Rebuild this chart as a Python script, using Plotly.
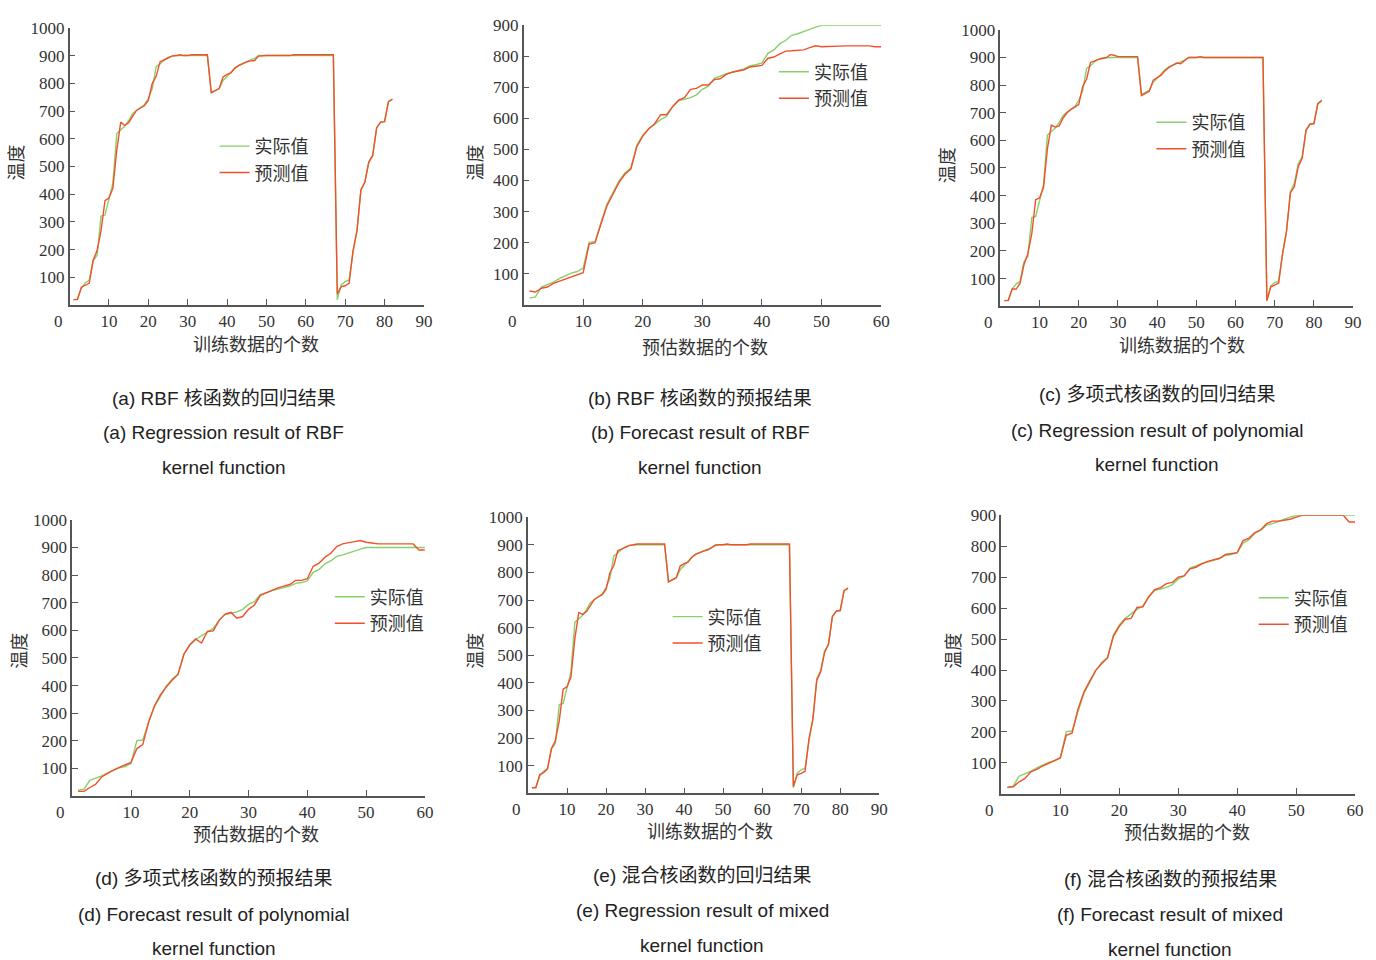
import plotly.graph_objects as go

W, H = 1376, 960

# ---------------- data ----------------
train_x = list(range(1, 83))
actual_train = [20, 22, 62, 80, 90, 160, 180, 321, 325, 380, 440, 619, 632, 645, 665, 690, 702, 711, 722, 745,
                780, 860, 870, 884, 893, 898, 900, 900, 900, 900, 900, 900, 900, 900, 900, 766, 773, 781, 810, 825,
                840, 855, 866, 873, 878, 884, 890, 900, 900, 900, 900, 900, 900, 900, 900, 900, 900, 900, 900, 900,
                900, 900, 900, 900, 900, 900, 900, 20, 73, 85, 91, 190, 270, 415, 445, 515, 540, 640, 660, 662,
                734, 743]
pred_rbf_train = [20, 20, 65, 73, 79, 162, 197, 268, 377, 386, 421, 560, 660, 648, 658, 681, 702, 711, 719, 738,
                  799, 825, 878, 884, 891, 898, 900, 903, 900, 900, 903, 903, 903, 903, 903, 766, 773, 781, 823, 832,
                  837, 855, 864, 872, 877, 881, 882, 898, 900, 900, 900, 900, 900, 900, 900, 900, 903, 903, 903, 903,
                  903, 903, 903, 903, 903, 903, 903, 41, 67, 70, 79, 197, 268, 416, 443, 516, 540, 640, 660, 662,
                  734, 743]
pred_poly_train = [20, 20, 62, 62, 82, 150, 190, 262, 385, 392, 430, 570, 655, 648, 652, 681, 700, 712, 720, 730,
                   795, 822, 882, 888, 893, 896, 899, 910, 908, 903, 903, 903, 903, 903, 903, 762, 769, 778, 818, 828,
                   836, 852, 864, 872, 880, 877, 888, 900, 900, 900, 903, 900, 900, 900, 900, 900, 900, 900, 900, 900,
                   900, 900, 900, 900, 900, 900, 900, 20, 70, 76, 84, 190, 270, 410, 432, 505, 535, 636, 658, 660,
                   732, 745]
pred_mix_train = [20, 20, 68, 75, 88, 162, 190, 262, 377, 386, 421, 560, 655, 648, 658, 681, 702, 711, 719, 738,
                  799, 825, 878, 884, 891, 898, 900, 903, 903, 903, 903, 903, 903, 903, 903, 766, 773, 781, 823, 832,
                  837, 855, 866, 872, 877, 881, 888, 898, 900, 900, 903, 900, 900, 900, 900, 900, 903, 903, 903, 903,
                  903, 903, 903, 903, 903, 903, 903, 25, 67, 72, 80, 197, 268, 410, 440, 510, 540, 640, 660, 662,
                  734, 743]

fc_x = list(range(1, 61))
actual_fc = [21, 25, 57, 65, 73, 84, 94, 102, 107, 118, 201, 203, 266, 324, 361, 398, 424, 440, 514, 546,
             567, 581, 596, 607, 638, 657, 662, 667, 676, 694, 704, 729, 736, 744, 749, 755, 760, 770, 773, 779,
             810, 821, 841, 852, 868, 873, 879, 887, 894, 900, 900, 900, 900, 900, 900, 900, 900, 900, 900, 900]
pred_rbf_fc = [44, 41, 53, 57, 69, 76, 83, 91, 97, 103, 195, 200, 261, 319, 356, 393, 420, 437, 509, 543,
               567, 583, 612, 612, 638, 659, 667, 694, 697, 708, 708, 725, 728, 742, 749, 754, 757, 766, 768, 771,
               794, 798, 808, 817, 818, 819, 821, 828, 834, 831, 832, 834, 834, 834, 834, 834, 834, 834, 831, 831]
pred_poly_fc = [17, 17, 31, 43, 69, 82, 94, 104, 112, 122, 172, 186, 268, 327, 366, 395, 419, 441, 513, 548,
                569, 554, 596, 598, 636, 659, 665, 644, 650, 676, 692, 727, 736, 746, 754, 760, 766, 781, 781, 787,
                832, 843, 865, 879, 903, 913, 916, 921, 925, 919, 916, 913, 913, 913, 913, 913, 913, 913, 891, 891]
pred_mix_fc = [21, 23, 39, 50, 71, 79, 90, 98, 106, 116, 189, 197, 274, 329, 365, 399, 420, 439, 509, 541,
               564, 567, 602, 604, 636, 660, 666, 679, 683, 700, 704, 727, 732, 743, 751, 756, 761, 773, 775, 779,
               818, 826, 844, 853, 873, 881, 881, 884, 887, 894, 900, 900, 900, 900, 900, 900, 900, 900, 878, 878]

series_names = ["实际值", "预测值"]
xtitle_train = "训练数据的个数"
xtitle_fc = "预估数据的个数"
ytitle = "温度"

captions = [
    ["(a) RBF 核函数的回归结果", "(a) Regression result of RBF", "kernel function"],
    ["(b) RBF 核函数的预报结果", "(b) Forecast result of RBF", "kernel function"],
    ["(c) 多项式核函数的回归结果", "(c) Regression result of polynomial", "kernel function"],
    ["(d) 多项式核函数的预报结果", "(d) Forecast result of polynomial", "kernel function"],
    ["(e) 混合核函数的回归结果", "(e) Regression result of mixed", "kernel function"],
    ["(f) 混合核函数的预报结果", "(f) Forecast result of mixed", "kernel function"],
]

# ---------------- layout geometry (pixels) ----------------
panels = [
    dict(box=(70, 426.7, 19, 299), xmax=90, ymax=1000, x=train_x, act=actual_train, pred=pred_rbf_train,
         xt=xtitle_train, xtpos=(258, 337), ytpos=(15, 155), leg=(216, 120), cap=(225, [393, 428, 463])),
    dict(box=(527, 887, 16.5, 298.5), xmax=60, ymax=900, x=fc_x, act=actual_fc, pred=pred_rbf_fc,
         xt=xtitle_fc, xtpos=(710, 340), ytpos=(477, 155), leg=(779, 45), cap=(705, [393, 428, 463])),
    dict(box=(1007, 1362, 21, 300), xmax=90, ymax=1000, x=train_x, act=actual_train, pred=pred_poly_train,
         xt=xtitle_train, xtpos=(1190, 338), ytpos=(952, 158), leg=(1159, 96), cap=(1165, [389, 425, 460])),
    dict(box=(72.7, 427.7, 515.7, 794.5), xmax=60, ymax=1000, x=fc_x, act=actual_fc, pred=pred_poly_fc,
         xt=xtitle_fc, xtpos=(258, 832), ytpos=(18, 648), leg=(332, 575), cap=(215, [878, 914, 948])),
    dict(box=(531.5, 885, 513, 791.7), xmax=90, ymax=1000, x=train_x, act=actual_train, pred=pred_mix_train,
         xt=xtitle_train, xtpos=(715, 829), ytpos=(477, 648), leg=(672, 595), cap=(707, [875, 910, 945])),
    dict(box=(1008, 1364, 511, 792.3), xmax=60, ymax=900, x=fc_x, act=actual_fc, pred=pred_mix_fc,
         xt=xtitle_fc, xtpos=(1195, 830), ytpos=(958, 648), leg=(1262, 576), cap=(1178, [879, 914, 949])),
]

GREEN = "#86d16a"
RED = "#f2502c"
AXIS = "#555555"
TXT = "#333333"
SERIF = "Liberation Serif, Times New Roman, serif"
CJK = "Noto Sans CJK SC"
SANS = "Liberation Sans, Noto Sans CJK SC, sans-serif"

def px(x):
    return x / W

def py(y):
    return 1 - y / H

fig = go.Figure()
annotations = []
layout = dict(width=W, height=H, margin=dict(l=0, r=0, t=0, b=0),
              paper_bgcolor="white", plot_bgcolor="white", showlegend=True)

for i, p in enumerate(panels):
    n = i + 1
    sfx = "" if n == 1 else str(n)
    xa, ya = "x" + sfx, "y" + sfx
    leg = "legend" + sfx
    x0, x1, yt, yb = p["box"]
    fig.add_trace(go.Scatter(x=p["x"], y=p["act"], mode="lines", name=series_names[0],
                             line=dict(color=GREEN, width=1.4), xaxis=xa, yaxis=ya, legend=leg))
    fig.add_trace(go.Scatter(x=p["x"], y=p["pred"], mode="lines", name=series_names[1],
                             line=dict(color=RED, width=1.4), xaxis=xa, yaxis=ya, legend=leg))
    common = dict(showline=True, linecolor=AXIS, linewidth=1.5, ticks="inside", ticklen=6,
                  tickcolor=AXIS, tickwidth=1.3, showgrid=False, zeroline=False,
                  tickfont=dict(family=SERIF, size=17, color=TXT))
    layout["xaxis" + sfx] = dict(domain=[px(x0), px(x1)], range=[0, p["xmax"]],
                                 tickvals=list(range(10, p["xmax"] + 1, 10)), anchor=ya, **common)
    layout["yaxis" + sfx] = dict(domain=[py(yb), py(yt)], range=[0, p["ymax"]],
                                 tickvals=list(range(100, p["ymax"] + 1, 100)), anchor=xa, **common)
    layout[leg] = dict(x=px(p["leg"][0]), y=py(p["leg"][1]), xanchor="left", yanchor="top",
                       bgcolor="rgba(0,0,0,0)", borderwidth=0, tracegroupgap=0,
                       font=dict(family=CJK, size=18, color=TXT))
    annotations.append(dict(text="0", xref=xa + " domain", yref=ya + " domain", x=0, y=0,
                            xanchor="right", yanchor="top", xshift=-5, yshift=-5, showarrow=False,
                            font=dict(family=SERIF, size=17, color=TXT)))
    annotations.append(dict(text=p["xt"], xref="paper", yref="paper", x=px(p["xtpos"][0]),
                            y=py(p["xtpos"][1]), xanchor="center", yanchor="middle", showarrow=False,
                            font=dict(family=CJK, size=18, color=TXT)))
    annotations.append(dict(text=ytitle, xref="paper", yref="paper", x=px(p["ytpos"][0]),
                            y=py(p["ytpos"][1]), xanchor="center", yanchor="middle", showarrow=False,
                            textangle=-90, font=dict(family=CJK, size=18, color=TXT)))
    cx, cys = p["cap"]
    for line, cy in zip(captions[i], cys):
        annotations.append(dict(text=line, xref="paper", yref="paper", x=px(cx), y=py(cy),
                                xanchor="center", yanchor="middle", showarrow=False,
                                font=dict(family=SANS, size=19, color="#222222")))

layout["annotations"] = annotations
fig.update_layout(**layout)
fig.write_html("out.html", config={"displayModeBar": False},
               post_script="document.body.style.margin='0';document.body.style.overflow='hidden';")
